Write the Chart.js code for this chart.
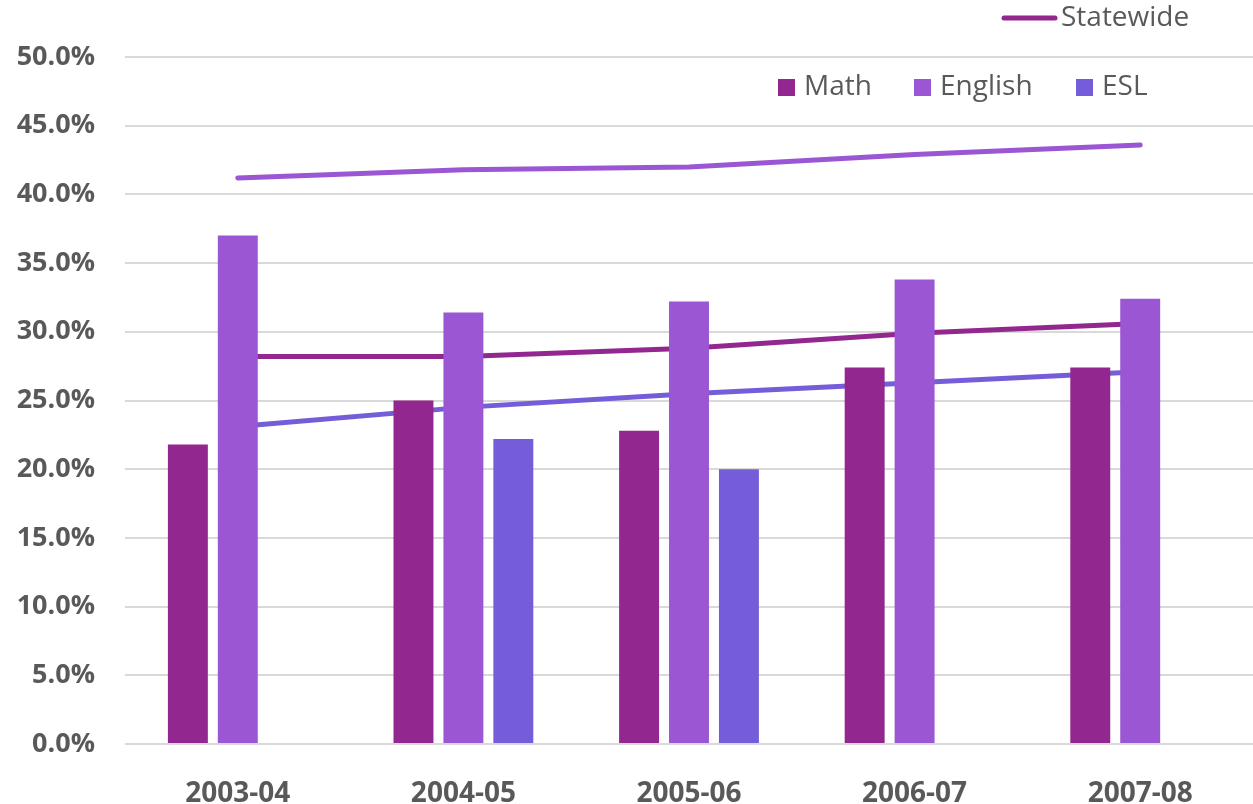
<!DOCTYPE html>
<html>
<head>
<meta charset="utf-8">
<script src="https://cdn.jsdelivr.net/npm/chart.js@4"></script>
<style>
  body { margin: 0; background: #fff; }
  canvas { display: block; }
</style>
</head>
<body>
<canvas id="myChart" width="1253" height="804"></canvas>
<script>
// Years
const years = ['2003-04', '2004-05', '2005-06', '2006-07', '2007-08'];

// College values (%)
const math = [21.8, 25.0, 22.8, 27.4, 27.4];
const english = [37.0, 31.4, 32.2, 33.8, 32.4];
const esl = [null, 22.2, 20.0, null, null];

// Statewide values (%)
const mathState = [28.2, 28.2, 28.8, 29.9, 30.6];
const englishState = [41.2, 41.8, 42.0, 42.9, 43.6];
const eslState = [23.1, 24.5, 25.5, 26.3, 27.1];

const yTicks = [0, 5, 10, 15, 20, 25, 30, 35, 40, 45, 50];

const colMath = '#92278F';
const colEnglish = '#9B57D3';
const colEsl = '#755DD9';
const textCol = '#595959';

function lineSet(label, data, color) {
  return {
    type: 'line',
    label: label,
    data: data,
    borderColor: color,
    backgroundColor: color,
    borderWidth: 5,
    borderCapStyle: 'round',
    pointRadius: 0,
    tension: 0,
    order: 2
  };
}

function barSet(label, data, color) {
  return {
    type: 'bar',
    label: label,
    data: data,
    backgroundColor: color,
    borderWidth: 0,
    categoryPercentage: 0.664,
    barPercentage: 0.8,
    order: 1
  };
}

// legends drawn by hand : one above the plot, one inside it
const legendPlugin = {
  id: 'customLegends',
  afterDraw(chart) {
    const ctx = chart.ctx;
    ctx.save();
    ctx.font = '28px "Open Sans"';
    ctx.textBaseline = 'middle';
    ctx.fillStyle = textCol;

    // Statewide
    ctx.strokeStyle = colMath;
    ctx.lineWidth = 5;
    ctx.lineCap = 'round';
    ctx.beginPath();
    ctx.moveTo(1004, 18);
    ctx.lineTo(1055, 18);
    ctx.stroke();
    ctx.fillText('Statewide', 1061, 18);

    // bar series
    const items = [
      { text: 'Math', color: colMath, x: 778 },
      { text: 'English', color: colEnglish, x: 914 },
      { text: 'ESL', color: colEsl, x: 1076 }
    ];
    items.forEach(it => {
      ctx.fillStyle = it.color;
      ctx.fillRect(it.x, 79, 17, 17);
      ctx.fillStyle = textCol;
      ctx.fillText(it.text, it.x + 26, 87);
    });
    ctx.restore();
  }
};

const config = {
  data: {
    labels: years,
    datasets: [
      barSet('Math', math, colMath),
      barSet('English', english, colEnglish),
      barSet('ESL', esl, colEsl),
      lineSet('Statewide', mathState, colMath),
      lineSet('Statewide English', englishState, colEnglish),
      lineSet('Statewide ESL', eslState, colEsl)
    ]
  },
  options: {
    responsive: false,
    animation: false,
    layout: { padding: { top: 57, right: 0, left: 0, bottom: 0 } },
    plugins: {
      legend: { display: false },
      tooltip: { enabled: false }
    },
    scales: {
      x: {
        grid: { display: false },
        border: { display: false },
        ticks: {
          color: textCol,
          padding: 25,
          font: { family: '"Open Sans"', size: 28, weight: 'bold' }
        },
        afterFit(scale) { scale.height = 60; }
      },
      y: {
        min: 0,
        max: 50,
        afterBuildTicks(scale) {
          scale.ticks = yTicks.map(v => ({ value: v }));
        },
        grid: { color: '#d9d9d9', lineWidth: 2, drawTicks: false },
        border: { display: false },
        ticks: {
          color: textCol,
          padding: 30,
          font: { family: '"Open Sans"', size: 27, weight: 'bold' },
          callback: v => v.toFixed(1) + '%'
        },
        afterFit(scale) { scale.width = 125; }
      }
    }
  },
  plugins: [legendPlugin]
};

const ctx = document.getElementById('myChart').getContext('2d');
new Chart(ctx, config);
</script>
</body>
</html>
